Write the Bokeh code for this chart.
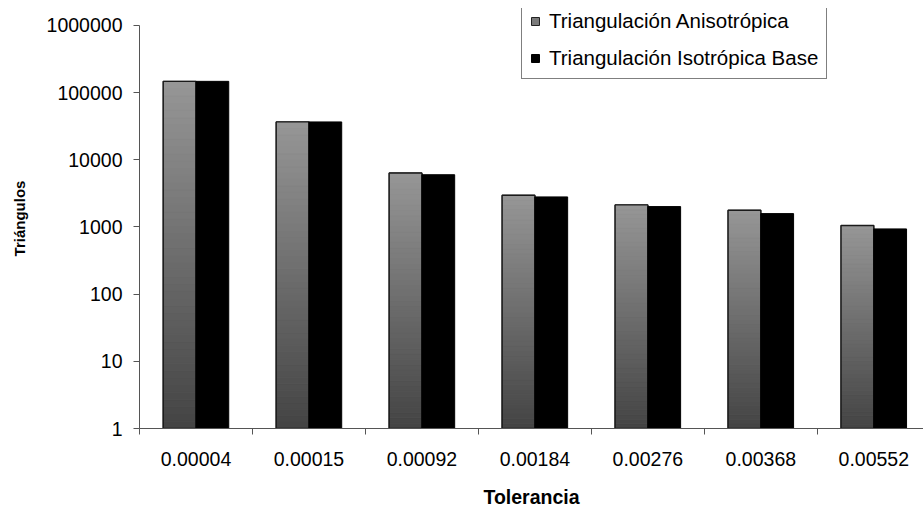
import numpy as np
from bokeh.plotting import figure
from bokeh.models import (FixedTicker, Range1d, NumeralTickFormatter, Legend,
                          LegendItem, ColumnDataSource)
from bokeh.embed import file_html
from bokeh.resources import INLINE

# ---- data ----
tolerancias = ["0.00004", "0.00015", "0.00092", "0.00184", "0.00276", "0.00368", "0.00552"]
anisotropica = [147000, 36600, 6350, 2960, 2130, 1770, 1050]
isotropica_base = [147000, 36600, 5990, 2800, 2010, 1580, 935]
y_ticks = [1, 10, 100, 1000, 10000, 100000, 1000000]
serie_names = ["Triangulación Anisotrópica", "Triangulación Isotrópica Base"]

FONT = "Liberation Sans"
n = len(tolerancias)
idx = np.arange(n)

# frame: 422 px tall, the 1..1e6 span uses the lower 405 px
y_top = 10 ** (np.log10(y_ticks[-1]) * 422.0 / 405.0)

p = figure(width=923, height=510, y_axis_type="log",
           x_range=Range1d(0, 6.94), y_range=Range1d(1, y_top),
           output_backend="svg", toolbar_location=None,
           min_border_left=139, min_border_right=0,
           min_border_top=8, min_border_bottom=80)
p.outline_line_color = None
p.xgrid.visible = False
p.ygrid.visible = False
p.background_fill_color = "white"

# gray bars: base (legend), gradient segments, outline
g_left = idx + 0.21
g_right = idx + 0.5
base_src = ColumnDataSource(dict(left=g_left, right=g_right,
                                 top=anisotropica, bottom=[1] * n))
r_gray = p.quad(left="left", right="right", top="top", bottom="bottom",
                source=base_src, fill_color="#7a7a7a", line_color="#222222",
                line_width=1)

N = 48
seg = dict(left=[], right=[], top=[], bottom=[], color=[])
c_top = np.array([0x97, 0x97, 0x97])
c_bot = np.array([0x44, 0x44, 0x44])
for i, v in enumerate(anisotropica):
    lv = np.log10(v)
    for k in range(N):
        b = lv * k / N
        t = lv * (k + 1) / N
        f = (k + 0.5) / N
        c = (c_bot + (c_top - c_bot) * f).astype(int)
        seg["left"].append(g_left[i])
        seg["right"].append(g_right[i])
        seg["bottom"].append(10 ** b)
        seg["top"].append(10 ** t)
        seg["color"].append("#%02x%02x%02x" % tuple(c))
p.quad(left="left", right="right", top="top", bottom="bottom",
       source=ColumnDataSource(seg), fill_color="color", line_color="color",
       line_width=0.6)
p.quad(left="left", right="right", top="top", bottom="bottom",
       source=base_src, fill_alpha=0, line_color="#1a1a1a", line_width=1.4)

# black bars
b_src = ColumnDataSource(dict(left=idx + 0.5, right=idx + 0.79,
                              top=isotropica_base, bottom=[1] * n))
r_black = p.quad(left="left", right="right", top="top", bottom="bottom",
                 source=b_src, fill_color="black", line_color="black",
                 line_width=1)

# axes
xa = p.xaxis[0]
xa.ticker = FixedTicker(ticks=list(idx + 0.5), minor_ticks=list(range(n + 1)))
xa.major_label_overrides = {float(i + 0.5): lab for i, lab in enumerate(tolerancias)}
xa.major_tick_out = 0
xa.major_tick_in = 0
xa.minor_tick_out = 6
xa.minor_tick_in = 0
xa.minor_tick_line_color = "#555555"
xa.axis_line_color = "#555555"
xa.major_label_text_font = FONT
xa.major_label_text_font_size = "19.5px"
xa.major_label_text_color = "black"
xa.major_label_standoff = 17
xa.axis_label = "Tolerancia"
xa.axis_label_text_font = FONT
xa.axis_label_text_font_style = "bold"
xa.axis_label_text_font_size = "19.5px"
xa.axis_label_text_color = "black"
xa.axis_label_standoff = 17

ya = p.yaxis[0]
ya.ticker = FixedTicker(ticks=y_ticks, minor_ticks=[])
ya.formatter = NumeralTickFormatter(format="0")
ya.bounds = (y_ticks[0], y_ticks[-1])
ya.major_tick_out = 6
ya.major_tick_in = 0
ya.major_tick_line_color = "#555555"
ya.axis_line_color = "#555555"
ya.major_label_text_font = FONT
ya.major_label_text_font_size = "19.5px"
ya.major_label_text_color = "black"
ya.major_label_standoff = 11
ya.axis_label = "Triángulos"
ya.axis_label_text_font = FONT
ya.axis_label_text_font_style = "bold"
ya.axis_label_text_font_size = "15px"
ya.axis_label_text_color = "black"
ya.axis_label_standoff = 16

legend = Legend(items=[LegendItem(label=serie_names[0], renderers=[r_gray]),
                       LegendItem(label=serie_names[1], renderers=[r_black])],
                location=(382, 349))
legend.label_text_font = FONT
legend.label_text_font_size = "20.5px"
legend.label_text_color = "black"
legend.glyph_width = 10
legend.glyph_height = 10
legend.label_height = 22
legend.label_standoff = 9
legend.spacing = 13
legend.padding = 8
legend.margin = 0
legend.border_line_color = "black"
legend.border_line_width = 1
legend.background_fill_alpha = 1
p.add_layout(legend, "center")

open("out.html", "w").write(file_html(p, INLINE))
